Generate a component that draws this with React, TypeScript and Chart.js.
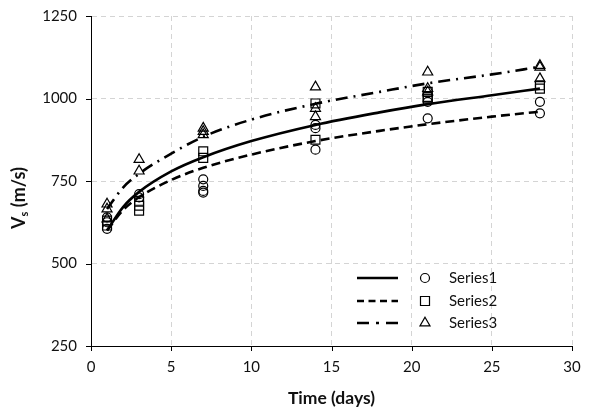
import React, { useEffect, useRef } from "react";
import { Chart, registerables } from "chart.js";
Chart.register(...registerables);

const seriesNames = ["Series1", "Series2", "Series3"];

// measured points (days, Vs in m/s)
const s1Days = [1, 1, 1, 3, 3, 7, 7, 7, 7, 14, 14, 14, 21, 21, 28, 28];
const s1Vs = [605, 625, 640, 710, 700, 755, 735, 720, 715, 920, 910, 845, 990, 940, 990, 955];
const s2Days = [1, 1, 3, 3, 3, 7, 7, 14, 14, 21, 21, 21, 28, 28];
const s2Vs = [615, 630, 690, 675, 660, 840, 820, 985, 875, 1020, 1005, 1000, 1040, 1030];
const s3Days = [1, 1, 1, 3, 3, 7, 7, 7, 14, 14, 14, 21, 21, 21, 28, 28, 28];
const s3Vs = [680, 665, 635, 815, 780, 910, 900, 890, 1035, 970, 945, 1080, 1030, 1020, 1100, 1095, 1060];

// fitted trend curves
const trendDays = [1, 2, 3, 5, 7, 10, 14, 18, 21, 25, 28];
const trend1 = [600, 671, 717, 779, 822, 871, 920, 958, 983, 1010, 1030];
const trend2 = [600, 662, 701, 753, 790, 830, 871, 902, 922, 945, 960];
const trend3 = [665, 730, 772, 833, 884, 936, 984, 1020, 1046, 1073, 1096];

const xTicks = [0, 5, 10, 15, 20, 25, 30];
const yTicks = [250, 500, 750, 1000, 1250];

const FONT = "Lato, 'Open Sans', sans-serif";
const TXT = "#111";
const DASH2 = [9, 5];
const DASH3 = [12, 6, 2, 6];

const pts = (xs: number[], ys: number[]) => xs.map((x, i) => ({ x, y: ys[i] }));

function drawMarker(ctx: CanvasRenderingContext2D, kind: number, x: number, y: number) {
  ctx.beginPath();
  if (kind === 0) {
    ctx.arc(x, y, 4.5, 0, Math.PI * 2);
  } else if (kind === 1) {
    ctx.rect(x - 4.5, y - 4.5, 9, 9);
  } else {
    const r = 5.8;
    for (let k = 0; k < 3; k++) {
      const a = (k * 2 * Math.PI) / 3;
      const px = x + Math.sin(a) * r;
      const py = y - Math.cos(a) * r;
      if (k === 0) ctx.moveTo(px, py);
      else ctx.lineTo(px, py);
    }
    ctx.closePath();
  }
  ctx.stroke();
}

const overlay = {
  id: "overlay",
  afterDraw(chart: any) {
    const ctx: CanvasRenderingContext2D = chart.ctx;
    const xs = chart.scales.x;
    const ys = chart.scales.y;
    const area = chart.chartArea;
    ctx.save();
    // tick marks
    ctx.strokeStyle = "#000";
    ctx.lineWidth = 1;
    ctx.setLineDash([]);
    xTicks.forEach((t) => {
      const px = Math.round(xs.getPixelForValue(t)) + 0.5;
      ctx.beginPath();
      ctx.moveTo(px, area.bottom);
      ctx.lineTo(px, area.bottom + 5);
      ctx.stroke();
    });
    yTicks.forEach((t) => {
      const py = Math.round(ys.getPixelForValue(t)) + 0.5;
      ctx.beginPath();
      ctx.moveTo(area.left - 5, py);
      ctx.lineTo(area.left, py);
      ctx.stroke();
    });

    // x title
    ctx.fillStyle = TXT;
    ctx.font = `bold 17.5px ${FONT}`;
    ctx.textAlign = "center";
    ctx.textBaseline = "middle";
    ctx.fillText("Time (days)", (area.left + area.right) / 2, 398);

    // y title with subscript
    ctx.save();
    ctx.translate(19, 198);
    ctx.rotate(-Math.PI / 2);
    ctx.textAlign = "left";
    ctx.textBaseline = "alphabetic";
    const big = `bold 18px ${FONT}`;
    const small = `bold 11px ${FONT}`;
    ctx.font = big;
    const wV = ctx.measureText("V").width;
    const wRest = ctx.measureText(" (m/s)").width;
    ctx.font = small;
    const wS = ctx.measureText("s").width;
    const total = wV + wS + wRest;
    let cx = -total / 2;
    ctx.font = big;
    ctx.fillText("V", cx, 6);
    cx += wV;
    ctx.font = small;
    ctx.fillText("s", cx, 9);
    cx += wS;
    ctx.font = big;
    ctx.fillText(" (m/s)", cx, 6);
    ctx.restore();

    // legend
    const rows = [278, 301, 323];
    const dashes = [[], [7, 4.5], [12, 7, 3, 7]];
    rows.forEach((ry, i) => {
      ctx.strokeStyle = "#000";
      ctx.lineWidth = 2.6;
      ctx.setLineDash(dashes[i] as number[]);
      ctx.beginPath();
      ctx.moveTo(357, ry);
      ctx.lineTo(398, ry);
      ctx.stroke();
      ctx.setLineDash([]);
      ctx.lineWidth = 1.2;
      drawMarker(ctx, i, 425, ry);
      ctx.fillStyle = TXT;
      ctx.font = `15px ${FONT}`;
      ctx.textAlign = "left";
      ctx.textBaseline = "middle";
      ctx.fillText(seriesNames[i], 449, ry);
    });
    ctx.restore();
  },
};

export default function App() {
  const ref = useRef<HTMLCanvasElement | null>(null);
  useEffect(() => {
    document.body.style.margin = "0";
    const canvas = ref.current;
    if (!canvas) return;
    const markerBase = {
      type: "scatter" as const,
      showLine: false,
      borderColor: "#000",
      backgroundColor: "rgba(0,0,0,0)",
      borderWidth: 1.2,
    };
    const lineBase = {
      type: "line" as const,
      borderColor: "#000",
      borderWidth: 2.6,
      pointRadius: 0,
      fill: false,
      cubicInterpolationMode: "monotone" as const,
    };
    const chart = new Chart(canvas, {
      type: "scatter",
      data: {
        datasets: [
          { ...markerBase, label: seriesNames[0], data: pts(s1Days, s1Vs), pointStyle: "circle", pointRadius: 4.5 },
          { ...markerBase, label: seriesNames[1], data: pts(s2Days, s2Vs), pointStyle: "rect", pointRadius: 6.3 },
          { ...markerBase, label: seriesNames[2], data: pts(s3Days, s3Vs), pointStyle: "triangle", pointRadius: 5.8 },
          { ...lineBase, label: "fit1", data: pts(trendDays, trend1) },
          { ...lineBase, label: "fit2", data: pts(trendDays, trend2), borderDash: DASH2 },
          { ...lineBase, label: "fit3", data: pts(trendDays, trend3), borderDash: DASH3 },
        ] as any,
      },
      options: {
        animation: false,
        responsive: false,
        layout: { padding: { top: 16, right: 25, left: 0, bottom: 0 } },
        plugins: { legend: { display: false }, tooltip: { enabled: false } },
        scales: {
          x: {
            type: "linear",
            min: 0,
            max: 30,
            afterFit: (s: any) => {
              s.height = 66;
              s.paddingLeft = 0;
              s.paddingRight = 0;
            },
            afterBuildTicks: (s: any) => {
              s.ticks = xTicks.map((v) => ({ value: v }));
            },
            ticks: {
              color: TXT,
              font: { family: FONT, size: 15 },
              padding: 12,
              maxRotation: 0,
              callback: (v: any) => String(v),
            },
            grid: { color: "#d4d4d4", lineWidth: 1, drawTicks: false },
            border: { color: "#000", width: 1, dash: [5, 4] },
          },
          y: {
            type: "linear",
            min: 250,
            max: 1250,
            afterFit: (s: any) => {
              s.width = 91;
              s.paddingTop = 0;
              s.paddingBottom = 0;
            },
            afterBuildTicks: (s: any) => {
              s.ticks = yTicks.map((v) => ({ value: v }));
            },
            ticks: {
              color: TXT,
              font: { family: FONT, size: 15 },
              padding: 14,
              callback: (v: any) => String(v),
            },
            grid: { color: "#d4d4d4", lineWidth: 1, drawTicks: false },
            border: { color: "#000", width: 1, dash: [5, 4] },
          },
        },
      },
      plugins: [overlay],
    });
    return () => chart.destroy();
  }, []);
  return (
    <div style={{ position: "fixed", left: 0, top: 0, width: 597, height: 412, background: "#fff" }}>
      <canvas ref={ref} width={597} height={412} />
    </div>
  );
}
